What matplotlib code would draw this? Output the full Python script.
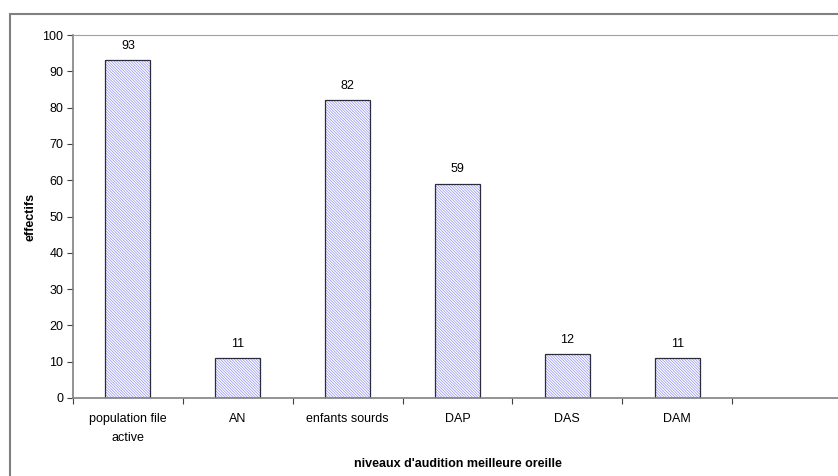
import matplotlib.pyplot as plt
from matplotlib.patches import Rectangle

categories = ['population file\nactive', 'AN', 'enfants sourds', 'DAP', 'DAS', 'DAM']
values = [93, 11, 82, 59, 12, 11]
n_slots = 7  # une catégorie vide à la fin

plt.rcParams['font.family'] = ['Liberation Sans', 'DejaVu Sans']
plt.rcParams['hatch.linewidth'] = 0.5

fig = plt.figure(figsize=(8.38, 4.76), dpi=100)
ax = fig.add_axes([73 / 838, 1 - 398 / 476, 769 / 838, 363 / 476])

# cadre extérieur du graphique
fig.patches.append(Rectangle((10 / 838, -0.2), 1.5, 1.2 - 14 / 476, transform=fig.transFigure,
                             fill=False, edgecolor='#808080', linewidth=1.5))

pos = [i + 0.5 for i in range(len(values))]
ax.bar(pos, values, width=0.41, color='white', edgecolor='#9090f0', hatch='\\' * 12, linewidth=0)
ax.bar(pos, values, width=0.41, fill=False, edgecolor='#2b2b3b', linewidth=0.9)
for x, v in zip(pos, values):
    ax.text(x, v + 4.0, str(v), ha='center', va='center', fontsize=9)

ax.set_xlim(0, n_slots)
ax.set_ylim(0, 100)
ax.set_yticks(range(0, 101, 10))
ax.set_xticks(range(n_slots + 1))
ax.set_xticklabels([])
ax.set_xticks(pos, labels=categories, minor=True)
ax.tick_params(axis='x', which='minor', length=0, pad=11, labelsize=9)
ax.tick_params(axis='x', which='major', length=4, color='#404040')
ax.tick_params(axis='y', length=4, color='#404040', labelsize=9, pad=3)
for lbl in ax.get_xticklabels(minor=True):
    lbl.set_linespacing(1.7)

for s in ['left', 'bottom']:
    ax.spines[s].set_color('#808080')
    ax.spines[s].set_linewidth(1.2)
ax.spines['top'].set_color('#a0a0a0')
ax.spines['right'].set_color('#a0a0a0')

ax.set_ylabel('effectifs', fontsize=9, fontweight='bold')
ax.yaxis.set_label_coords((37 - 73) / 769, 0.5)
ax.set_xlabel("niveaux d'audition meilleure oreille", fontsize=9, fontweight='bold')
ax.xaxis.set_label_coords((458 - 73) / 769, -(458 - 398) / 363)

fig.savefig('out.png', dpi=100)
